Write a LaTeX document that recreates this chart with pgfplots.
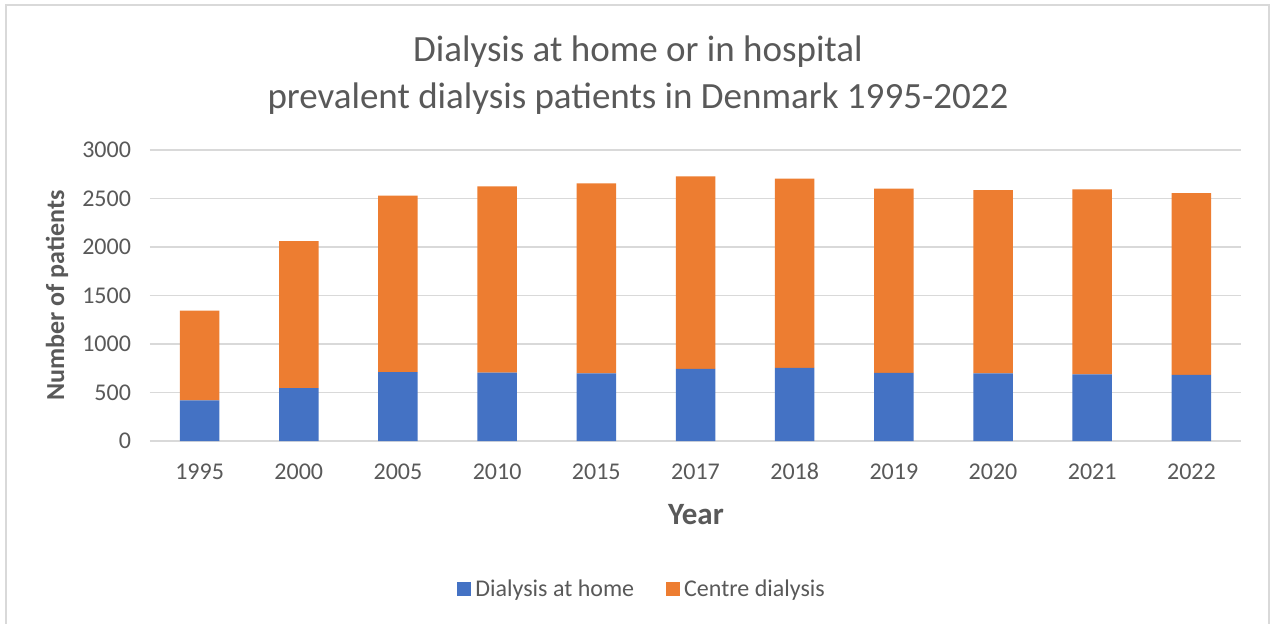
\documentclass[border=0pt]{standalone}
\usepackage{pgfplots}
\pgfplotsset{compat=1.18}
\usepackage{fontspec}
\setmainfont{Carlito}
\definecolor{txt}{HTML}{595959}
\definecolor{gridc}{HTML}{D9D9D9}
\definecolor{cblue}{HTML}{4472C4}
\definecolor{corange}{HTML}{ED7D31}
\begin{document}
\begin{tikzpicture}[x=0.5pt,y=0.5pt]
\useasboundingbox (0,0) rectangle (1270,623);
\fill[white] (0,0) rectangle (1270,623);
\draw[gridc, line width=0.75pt] (6,-10) rectangle (1269,618);
\node[txt, font=\fontsize{18.5}{23.5}\selectfont, align=center] at (638,547.5) {Dialysis at home or in hospital\\prevalent dialysis patients in Denmark 1995-2022};
\node[txt, font=\fontsize{13}{15}\selectfont\bfseries, rotate=90] at (57,327.5) {Number of patients};
\node[txt, font=\fontsize{15.5}{18}\selectfont\bfseries] at (696,108) {Year};
\begin{axis}[
  at={(75pt,91pt)}, anchor=south west, scale only axis,
  width=545.5pt, height=145.5pt,
  ybar stacked, bar width=19.75pt,
  xmin=-0.5, xmax=10.5, ymin=0, ymax=3000,
  xtick=data,
  xticklabels={1995,2000,2005,2010,2015,2017,2018,2019,2020,2021,2022},
  ytick={0,500,...,3000},
  ymajorgrids, xmajorgrids=false, grid style={draw=gridc, line width=0.75pt},
  axis line style={draw=none},
  major tick length=0pt,
  tick label style={txt, font=\fontsize{12}{14}\selectfont},
  yticklabel style={xshift=-6pt},
  xticklabel style={anchor=base, yshift=-19pt},
  /pgf/number format/assume math mode=true,
  /pgf/number format/1000 sep={},
  legend style={at={(0.452,-0.51)}, anchor=center, legend columns=2, draw=none, fill=none,
    font=\fontsize{12}{14}\selectfont, text=txt,
    /tikz/every even column/.append style={column sep=14pt}},
  legend image code/.code={\fill[#1] (0pt,-3.5pt) rectangle (7pt,3.5pt);},
]
\addplot[fill=cblue, draw=none] coordinates {(0,420) (1,544) (2,709) (3,705) (4,698) (5,743) (6,753) (7,702) (8,698) (9,688) (10,681)};
\addplot[fill=corange, draw=none] coordinates {(0,925) (1,1517) (2,1820) (3,1920) (4,1958) (5,1985) (6,1951) (7,1899) (8,1889) (9,1906) (10,1875)};
\legend{Dialysis at home, Centre dialysis}
\end{axis}
\end{tikzpicture}
\end{document}
